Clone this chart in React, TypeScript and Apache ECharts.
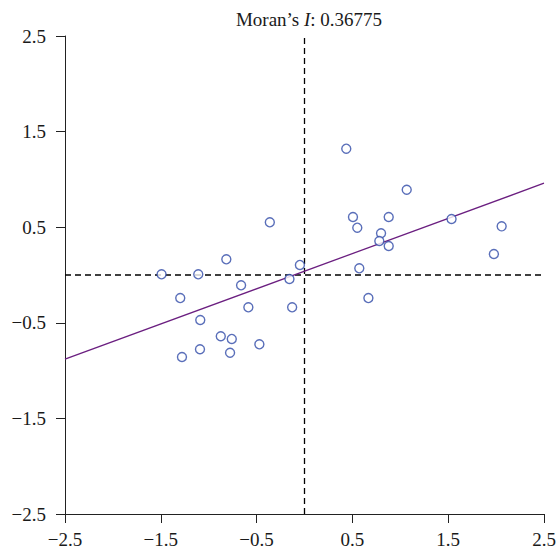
import React, { useEffect, useRef } from "react";
import * as echarts from "echarts";

const pointX = [
  -1.492, -1.109, -0.816, -0.362, -1.297, -0.662, -0.157, -0.048, -0.586, -0.129,
  -1.088, -0.874, -0.759, -0.471, -1.091, -0.777, -1.279, 0.436, 1.067, 0.506,
  0.879, 0.551, 1.535, 2.058, 0.799, 0.781, 0.879, 1.977, 0.572, 0.667,
];
const pointY = [
  0.007, 0.007, 0.164, 0.551, -0.241, -0.108, -0.042, 0.105, -0.338, -0.338,
  -0.471, -0.641, -0.669, -0.725, -0.777, -0.813, -0.858, 1.321, 0.892, 0.607,
  0.607, 0.495, 0.586, 0.509, 0.436, 0.356, 0.303, 0.22, 0.07, -0.241,
];
const fitX = [-2.5, 2.5];
const fitY = [-0.88, 0.96];
const axisMin = -2.5;
const axisMax = 2.5;
const moransI = "0.36775";

const FONT = "Liberation Serif";

const fmt = (v: number) => {
  const s = (Math.round(v * 10) / 10).toFixed(1);
  return s.replace("-", "\u2212");
};

export default function App() {
  const ref = useRef<HTMLDivElement>(null);
  useEffect(() => {
    if (!ref.current) return;
    const chart = echarts.init(ref.current, null, { renderer: "svg" });
    const axisCommon = {
      type: "value",
      min: axisMin,
      max: axisMax,
      interval: 1,
      axisLine: { show: true, onZero: false, lineStyle: { color: "#222", width: 1 } },
      axisTick: { show: true, inside: false, length: 9, lineStyle: { color: "#222", width: 1 } },
      splitLine: { show: false },
      axisLabel: {
        show: true,
        showMinLabel: true,
        showMaxLabel: true,
        fontFamily: FONT,
        fontSize: 19,
        color: "#1a1a1a",
        formatter: fmt,
      },
    };
    chart.setOption({
      animation: false,
      backgroundColor: "#ffffff",
      title: {
        text: "Moran\u2019s {i|I}: " + moransI,
        left: 304,
        textAlign: "center",
        top: 5,
        textStyle: {
          fontFamily: FONT,
          fontSize: 19,
          fontWeight: "normal",
          color: "#1a1a1a",
          rich: {
            i: { fontFamily: FONT, fontSize: 19, fontStyle: "italic", color: "#1a1a1a" },
          },
        },
      },
      grid: { left: 65, right: 15, top: 36, bottom: 37, containLabel: false },
      xAxis: { ...axisCommon, axisLabel: { ...axisCommon.axisLabel, margin: 16 } },
      yAxis: { ...axisCommon, axisLabel: { ...axisCommon.axisLabel, margin: 19 } },
      series: [
        {
          type: "line",
          data: [[axisMin, 0], [axisMax, 0]],
          symbol: "none",
          lineStyle: { color: "#000", width: 1.3, type: [6, 4] },
          silent: true,
          z: 1,
        },
        {
          type: "line",
          data: [[0, axisMin], [0, axisMax]],
          symbol: "none",
          lineStyle: { color: "#000", width: 1.3, type: [6, 4] },
          silent: true,
          z: 1,
        },
        {
          type: "line",
          data: fitX.map((x, i) => [x, fitY[i]]),
          symbol: "none",
          lineStyle: { color: "#6b1f80", width: 1.3 },
          z: 2,
        },
        {
          type: "scatter",
          data: pointX.map((x, i) => [x, pointY[i]]),
          symbol: "circle",
          symbolSize: 9,
          itemStyle: { color: "#ffffff", borderColor: "#2f4aa8", borderWidth: 1.4 },
          z: 3,
        },
      ],
    });
    return () => chart.dispose();
  }, []);
  return <div ref={ref} style={{ width: 559, height: 551, position: "absolute", left: 0, top: 0 }} />;
}
